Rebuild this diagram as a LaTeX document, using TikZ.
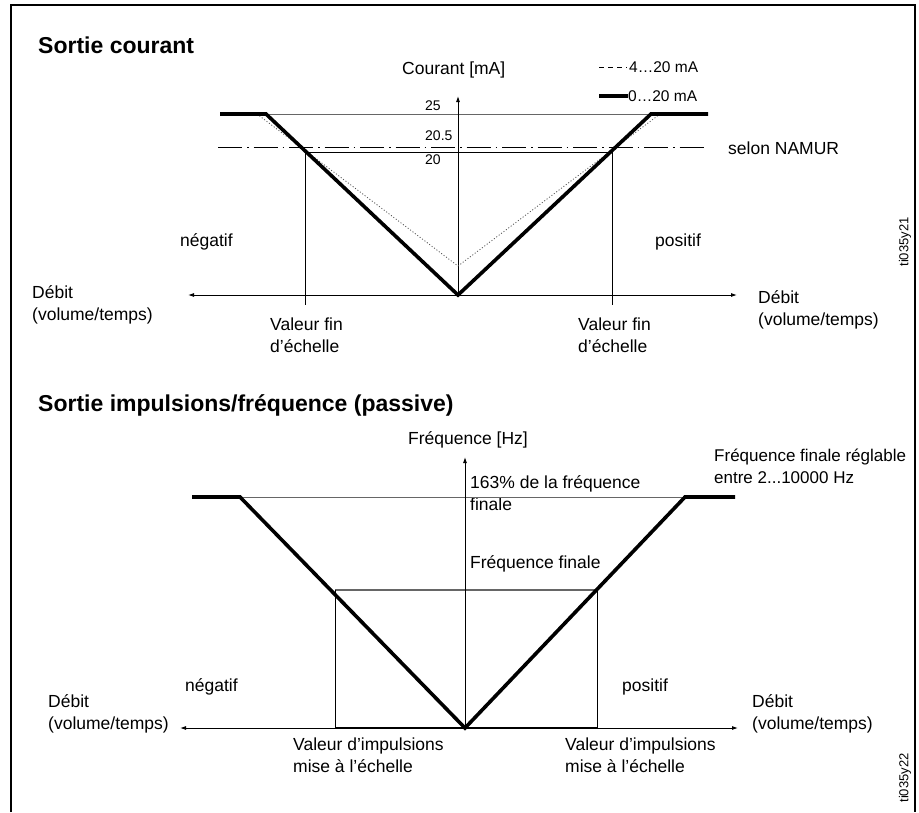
\documentclass[tikz,border=0pt]{standalone}
\usepackage{fontspec}
\setmainfont{Liberation Sans}
\usetikzlibrary{arrows.meta,calc,positioning}

\begin{document}
\begin{tikzpicture}[
  x=1pt,y=-1pt,
  font=\fontsize{17.5}{21.5}\selectfont,
  >={Latex[length=6pt,width=4pt]},
  title/.style={font=\fontsize{23}{26}\selectfont\bfseries, anchor=base west, inner sep=0pt},
  lbl/.style={align=left, anchor=base west, inner sep=0pt},
  small/.style={font=\fontsize{15.5}{18}\selectfont, anchor=base west, inner sep=0pt},
  tick/.style={font=\fontsize{14}{16}\selectfont, anchor=base west, inner sep=0pt},
  code/.style={font=\fontsize{13}{15}\selectfont, rotate=90, inner sep=0pt},
  thin/.style={line width=0.9pt, draw=black},
  level/.style={line width=0.9pt, draw=black!60},
  curve/.style={line width=3.6pt, draw=black, line join=miter},
  trace/.style={line width=0.8pt, draw=black!70, dash pattern=on 1pt off 2pt},
  namur/.style={line width=0.9pt, draw=black, dash pattern=on 24pt off 5pt on 1.5pt off 5pt},
  axis/.style={<->, line width=0.9pt, draw=black}
]
\useasboundingbox (0,0) rectangle (919,812);
\draw[line width=2pt] (11,812) -- (11,5) -- (915,5) -- (915,812);

%% Sortie courant
\node[title] (ctitle) at (38,53) {Sortie courant};
\coordinate (corig) at (458,295);
\coordinate (ctop) at (458,96);
\coordinate (cleft) at (188,295);
\coordinate (cright) at (737,295);
\coordinate (cfl) at (305,152);
\coordinate (cfr) at (612,152);

\node[lbl] (cunit) at (402,74) {Courant [mA]};
\node[small] (leg4) at (629,72) {4…20 mA};
\node[small] (leg0) at (628,101) {0…20 mA};
\coordinate (leg4a) at (599,67);
\coordinate (leg0a) at (599,96);
\draw[line width=0.9pt, dash pattern=on 5pt off 4pt] (leg4a) -- ([xshift=-2pt]leg4.west |- leg4a);
\draw[line width=3.6pt] (leg0a) -- (leg0.west |- leg0a);

\node[tick] (v25) at (425,110) {25};
\node[tick] (v205) at (425,140) {20.5};
\node[tick] (v20) at (425,164) {20};
\node[lbl] (namur) at (728,154) {selon NAMUR};

\draw[level] (266,114) -- (652,114);
\draw[namur] (218,147) -- (708,147);
\draw[thin] (cfl) -- (cfr);
\draw[thin] (cfl) -- (cfl |- 0,305);
\draw[thin] (cfr) -- (cfr |- 0,305);
\draw[thin, ->] (corig) -- (ctop);
\draw[axis] (cleft) -- (cright);
\draw[trace] (257,114) -- (458,266) -- (660,114);
\draw[curve] (220,114) -- (266,114) -- (corig) -- (651,114) -- (708,114);

\node[lbl] (cneg) at (180,246) {négatif};
\node[lbl] (cpos) at (655,246) {positif};
\node[lbl] (cflowl) at (32,320) {Débit\\(volume/temps)};
\node[lbl] (cflowr) at (758,325) {Débit\\(volume/temps)};
\node[lbl] (cendl) at (270,352) {Valeur fin\\d’échelle};
\node[lbl] (cendr) at (578,352) {Valeur fin\\d’échelle};
\node[code] (cref) at (905,242) {ti035y21};

%% Sortie impulsions/frequence
\node[title] (ftitle) at (38,411) {Sortie impulsions/fréquence (passive)};
\coordinate (forig) at (465,728);
\coordinate (ftop) at (465,457);
\coordinate (fleft) at (180,728);
\coordinate (fright) at (738,728);
\coordinate (fsl) at (335,590);
\coordinate (fsr) at (597,590);

\node[lbl] (funit) at (408,444) {Fréquence [Hz]};
\node[lbl, font=\fontsize{17}{21.5}\selectfont] (fmax) at (714,483) {Fréquence finale réglable\\entre 2...10000 Hz};
\node[lbl] (f163) at (470,510) {163\% de la fréquence\\finale};
\node[lbl] (ffin) at (470,568) {Fréquence finale};

\draw[level] (240,497) -- (685,497);
\draw[level, line width=1.3pt] (fsl) -- (fsr);
\draw[thin] (fsl) -- (fsl |- forig);
\draw[thin] (fsr) -- (fsr |- forig);
\draw[thin, line width=1.5pt] (fsl |- forig) -- (fsr |- forig);
\draw[thin, ->] (forig) -- (ftop);
\draw[axis] (fleft) -- (fright);
\draw[curve] (192,497) -- (240,497) -- (forig) -- (685,497) -- (735,497);

\node[lbl] (fneg) at (185,691) {négatif};
\node[lbl] (fpos) at (622,691) {positif};
\node[lbl] (fflowl) at (48,729) {Débit\\(volume/temps)};
\node[lbl] (fflowr) at (752,729) {Débit\\(volume/temps)};
\node[lbl] (fpl) at (293,772) {Valeur d’impulsions\\mise à l’échelle};
\node[lbl] (fpr) at (565,772) {Valeur d’impulsions\\mise à l’échelle};
\node[code] (fref) at (905,778) {ti035y22};
\end{tikzpicture}
\end{document}
